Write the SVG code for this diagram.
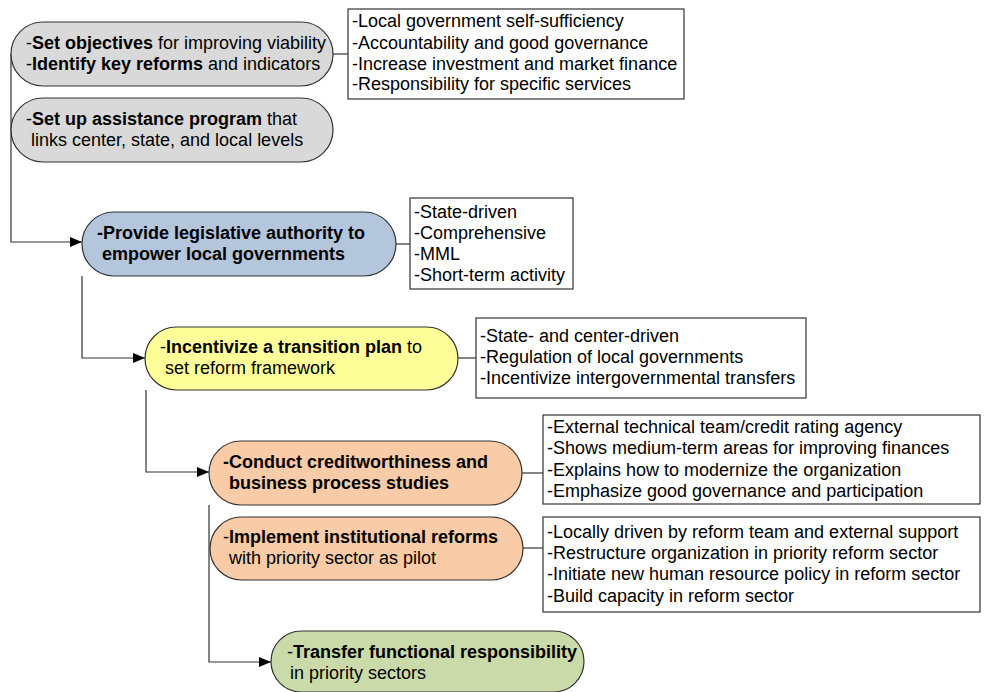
<svg xmlns="http://www.w3.org/2000/svg" width="989" height="692" viewBox="0 0 989 692">
<style>
text{font-family:"Liberation Sans",Arial,sans-serif;font-size:18px;fill:#000}
.b{font-weight:bold}
.node{stroke:#333;stroke-width:1.2}
.box{fill:#fff;stroke:#333;stroke-width:1.2}
.con{fill:none;stroke:#333;stroke-width:1.2}
</style>
<defs>
<marker id="arr" markerWidth="12" markerHeight="10" refX="12" refY="5" orient="auto" markerUnits="userSpaceOnUse">
<path d="M0,0 L12,5 L0,10 z" fill="#000"/>
</marker>
</defs>
<rect width="989" height="692" fill="#fff"/>
<g id="connectors">
<path class="con" d="M11,54 V242 H82" marker-end="url(#arr)"/>
<path class="con" d="M82,276 V358 H145" marker-end="url(#arr)"/>
<path class="con" d="M146,390 V472 H209" marker-end="url(#arr)"/>
<path class="con" d="M209,505 V662 H271" marker-end="url(#arr)"/>
<path class="con" d="M333,54 H348"/>
<path class="con" d="M396,244 H410"/>
<path class="con" d="M458,358 H476"/>
<path class="con" d="M522,473 H543"/>
<path class="con" d="M523,548 H543"/>
</g>
<g id="n1">
<rect class="node" x="11" y="22" width="322" height="64" rx="32" fill="#d9d9d9"/>
<text x="26" y="49">-<tspan class="b">Set objectives</tspan> for improving viability</text>
<text x="26" y="70">-<tspan class="b">Identify key reforms</tspan> and indicators</text>
</g>
<g id="b1">
<rect class="box" x="348" y="9" width="336" height="90"/>
<text x="352" y="27">-Local government self-sufficiency</text>
<text x="352" y="49">-Accountability and good governance</text>
<text x="352" y="70">-Increase investment and market finance</text>
<text x="352" y="90">-Responsibility for specific services</text>
</g>
<g id="n2">
<rect class="node" x="11" y="98" width="322" height="64" rx="32" fill="#d9d9d9"/>
<text x="26" y="125">-<tspan class="b">Set up assistance program</tspan> that</text>
<text x="31" y="146">links center, state, and local levels</text>
</g>
<g id="n3">
<rect class="node" x="82" y="212" width="314" height="64" rx="32" fill="#b3c6dc"/>
<text class="b" x="97" y="239">-Provide legislative authority to</text>
<text class="b" x="102" y="260">empower local governments</text>
</g>
<g id="b3">
<rect class="box" x="410" y="198" width="163" height="91"/>
<text x="414" y="218">-State-driven</text>
<text x="414" y="239">-Comprehensive</text>
<text x="414" y="260">-MML</text>
<text x="414" y="281">-Short-term activity</text>
</g>
<g id="n4">
<rect class="node" x="145" y="327" width="313" height="63" rx="31.5" fill="#ffff99"/>
<text x="160" y="353">-<tspan class="b">Incentivize a transition plan</tspan> to</text>
<text x="165" y="374">set reform framework</text>
</g>
<g id="b4">
<rect class="box" x="476" y="318" width="330" height="80"/>
<text x="480" y="342">-State- and center-driven</text>
<text x="480" y="363">-Regulation of local governments</text>
<text x="480" y="384">-Incentivize intergovernmental transfers</text>
</g>
<g id="n5">
<rect class="node" x="209" y="441" width="313" height="64" rx="32" fill="#f9cba6"/>
<text class="b" x="223" y="468">-Conduct creditworthiness and</text>
<text class="b" x="229" y="489">business process studies</text>
</g>
<g id="b5">
<rect class="box" x="543" y="415" width="437" height="89"/>
<text x="547" y="433">-External technical team/credit rating agency</text>
<text x="547" y="454">-Shows medium-term areas for improving finances</text>
<text x="547" y="476">-Explains how to modernize the organization</text>
<text x="547" y="497">-Emphasize good governance and participation</text>
</g>
<g id="n6">
<rect class="node" x="210" y="517" width="313" height="63" rx="31.5" fill="#f9cba6"/>
<text x="223" y="543">-<tspan class="b">Implement institutional reforms</tspan></text>
<text x="229" y="564">with priority sector as pilot</text>
</g>
<g id="b6">
<rect class="box" x="543" y="517" width="437" height="95"/>
<text x="547" y="538">-Locally driven by reform team and external support</text>
<text x="547" y="559">-Restructure organization in priority reform sector</text>
<text x="547" y="580">-Initiate new human resource policy in reform sector</text>
<text x="547" y="602">-Build capacity in reform sector</text>
</g>
<g id="n7">
<rect class="node" x="271" y="631" width="313" height="61" rx="30.5" fill="#cadaa9"/>
<text x="287" y="658">-<tspan class="b">Transfer functional responsibility</tspan></text>
<text x="290" y="679">in priority sectors</text>
</g>
</svg>
